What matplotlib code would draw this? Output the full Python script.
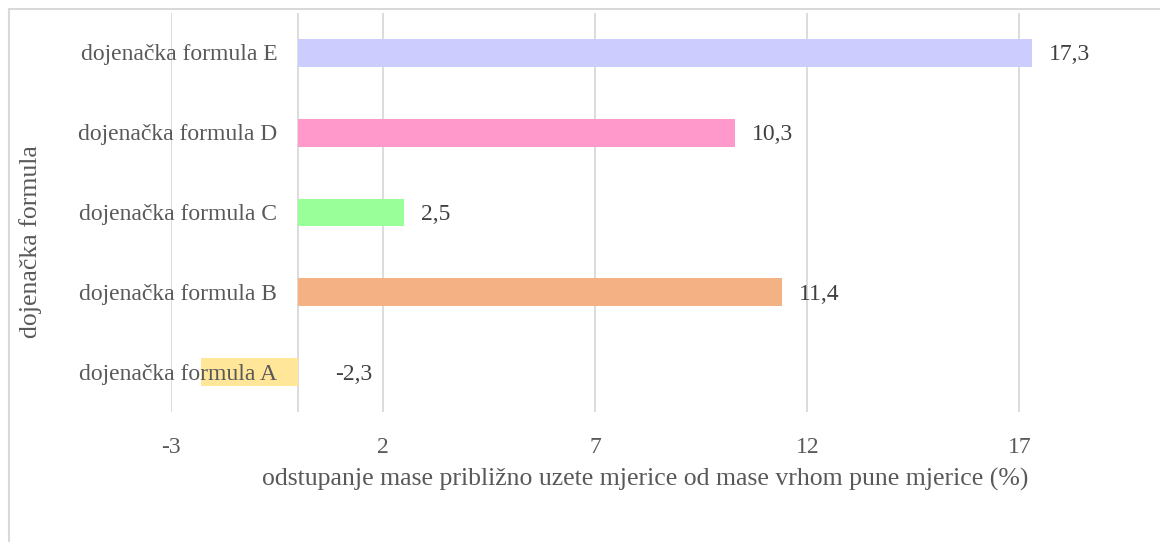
import matplotlib
matplotlib.use('Agg')
import matplotlib.pyplot as plt
from matplotlib.patches import Rectangle
from matplotlib.transforms import offset_copy

# data
categories = ['dojenačka formula A', 'dojenačka formula B', 'dojenačka formula C',
              'dojenačka formula D', 'dojenačka formula E']
values = [-2.3, 11.4, 2.5, 10.3, 17.3]
value_labels = ['-2,3', '11,4', '2,5', '10,3', '17,3']
colors = ['#FFE699', '#F4B183', '#99FF99', '#FF99CC', '#CCCCFF']
xticks = [-3, 2, 7, 12, 17]

plt.rcParams['font.family'] = ['Liberation Serif', 'DejaVu Serif']
text_col = '#595959'
grid_col = '#D9D9D9'

W, H = 1160, 542
fig = plt.figure(figsize=(W / 100, H / 100), dpi=100)
ax = fig.add_axes([171 / W, 1 - 412 / H, (1100 - 171) / W, (412 - 13) / H])

ypos = list(range(len(categories)))
ax.barh(ypos, values, height=0.35, color=colors, zorder=2)

ax.set_xlim(-3, 18.9)
ax.set_ylim(-0.5, len(categories) - 0.5)
ax.set_xticks(xticks)
ax.set_xticklabels([str(t) for t in xticks], fontsize=17, color=text_col)
ax.tick_params(axis='x', length=0, pad=18)
ax.set_yticks([])
ax.grid(axis='x', color=grid_col, linewidth=1.3, zorder=0)
ax.axvline(0, color=grid_col, linewidth=1.3, zorder=1)
for s in ax.spines.values():
    s.set_visible(False)

# category labels sit next to the zero line (Excel style), drawn over the bars
lab_tr = offset_copy(ax.transData, fig=fig, x=-21, y=-2, units='dots')
for y, name in zip(ypos, categories):
    ax.text(0, y, name, transform=lab_tr, ha='right', va='center',
            fontsize=17, color=text_col, zorder=3)

# value labels
for y, v, lbl in zip(ypos, values, value_labels):
    dx = 17 if v >= 0 else 37
    tr = offset_copy(ax.transData, fig=fig, x=dx, y=-2, units='dots')
    ax.text(max(v, 0), y, lbl, transform=tr, ha='left', va='center',
            fontsize=17, color='#404040', zorder=3)

fig.text(645 / W, 1 - 479 / H,
         'odstupanje mase približno uzete mjerice od mase vrhom pune mjerice (%)',
         ha='center', va='center', fontsize=18.5, color=text_col)
fig.text(31 / W, 1 - 242 / H, 'dojenačka formula', rotation=90,
         ha='center', va='center', fontsize=18.5, color=text_col)

# chart frame (only top/left edges visible in the crop)
fig.patches.append(Rectangle((9 / W, -0.1), 1.2, (H - 9) / H + 0.1,
                             transform=fig.transFigure, fill=False,
                             edgecolor='#D9D9D9', linewidth=1.5))

fig.savefig('out.png', dpi=100)
